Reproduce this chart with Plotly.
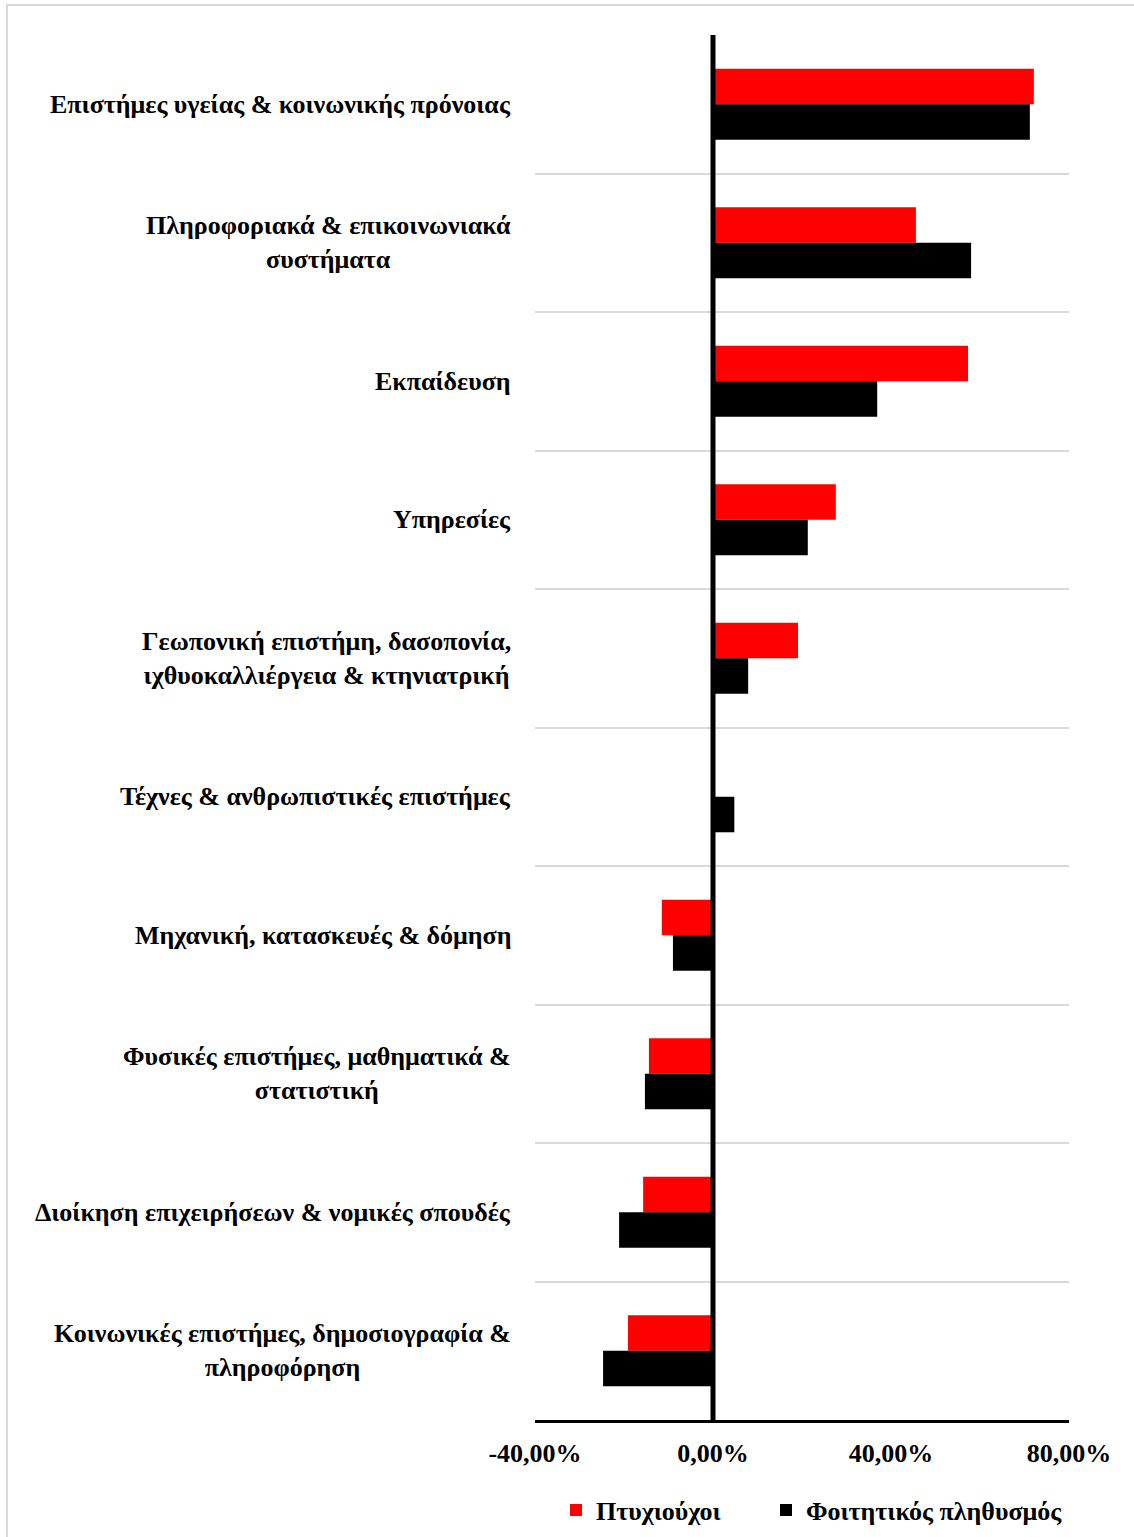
import plotly.graph_objects as go

categories = [
    "Επιστήμες υγείας & κοινωνικής πρόνοιας",
    "Πληροφοριακά & επικοινωνιακά<br>συστήματα",
    "Εκπαίδευση",
    "Υπηρεσίες",
    "Γεωπονική επιστήμη, δασοπονία,<br>ιχθυοκαλλιέργεια & κτηνιατρική",
    "Τέχνες & ανθρωπιστικές επιστήμες",
    "Μηχανική, κατασκευές & δόμηση",
    "Φυσικές επιστήμες, μαθηματικά &<br>στατιστική",
    "Διοίκηση επιχειρήσεων & νομικές σπουδές",
    "Κοινωνικές επιστήμες, δημοσιογραφία &<br>πληροφόρηση",
]
graduates = [72.1, 45.6, 57.3, 27.6, 19.1, 0.0, -11.5, -14.4, -15.7, -19.1]
students = [71.2, 58.0, 36.9, 21.3, 7.9, 4.8, -9.0, -15.3, -21.1, -24.7]
series_names = ["Πτυχιούχοι", "Φοιτητικός πληθυσμός"]
x_ticks = [-40, 0, 40, 80]
x_ticktext = ["-40,00%", "0,00%", "40,00%", "80,00%"]

FONT = "Liberation Serif"
FS = 26
idx = list(range(len(categories)))

fig = go.Figure()
fig.add_trace(go.Bar(y=idx, x=graduates, orientation="h",
                     name="<b>" + series_names[0] + "</b>", legend="legend",
                     marker=dict(color="#FF0000", line=dict(width=0))))
fig.add_trace(go.Bar(y=idx, x=students, orientation="h",
                     name="<b>" + series_names[1] + "</b>", legend="legend2",
                     marker=dict(color="#000000", line=dict(width=0))))

for i, c in enumerate(categories):
    fig.add_annotation(x=0, xref="paper", xanchor="right", xshift=-22,
                       y=i, yref="y", yanchor="middle", text="<b>" + c + "</b>",
                       showarrow=False, align="center",
                       font=dict(family=FONT, size=FS, color="black"))

# zero reference line above bars
fig.add_shape(type="line", xref="x", yref="paper", x0=0, x1=0, y0=0, y1=1,
              line=dict(color="black", width=5), layer="above")

# outer frame
W, H = 1134, 1537
L, R, T, B = 535, 65, 35, 117
pw, ph = W - L - R, H - T - B
def px(x): return (x - L) / pw
def py(y): return (H - B - y) / ph
fig.add_shape(type="rect", xref="paper", yref="paper",
              x0=px(7), x1=px(1145), y0=py(1545), y1=py(5),
              line=dict(color="#d9d9d9", width=2), layer="below")

legend_common = dict(orientation="h", xref="container", yref="container",
                     xanchor="left", y=(H - 1510) / H, yanchor="middle",
                     font=dict(family=FONT, size=FS, color="black"),
                     itemsizing="constant", itemwidth=30,
                     bgcolor="rgba(0,0,0,0)")

fig.update_layout(
    width=W, height=H,
    margin=dict(l=L, r=R, t=T, b=B, autoexpand=False),
    paper_bgcolor="white", plot_bgcolor="white",
    barmode="group", bargap=0.487, bargroupgap=0,
    font=dict(family=FONT, color="black"),
    showlegend=True,
    legend=dict(x=556 / W, **legend_common),
    legend2=dict(x=766 / W, **legend_common),
    xaxis=dict(range=[-40, 80], tickvals=x_ticks,
               ticktext=["<b>" + t + "</b>" for t in x_ticktext],
               tickfont=dict(family=FONT, size=FS, color="black"),
               showgrid=False, zeroline=False, showline=True,
               linecolor="black", linewidth=3, ticks="", ticklabelstandoff=8,
               fixedrange=True, automargin=False),
    yaxis=dict(range=[len(categories) - 0.5, -0.5],
               tickvals=[i - 0.5 for i in range(len(categories) + 1)],
               showticklabels=False, showgrid=True, gridcolor="#d9d9d9", gridwidth=2,
               zeroline=False, showline=False, ticks="", automargin=False),
)

fig.write_html("out.html", config={"displayModeBar": False},
               post_script="document.body.style.margin='0px';")
